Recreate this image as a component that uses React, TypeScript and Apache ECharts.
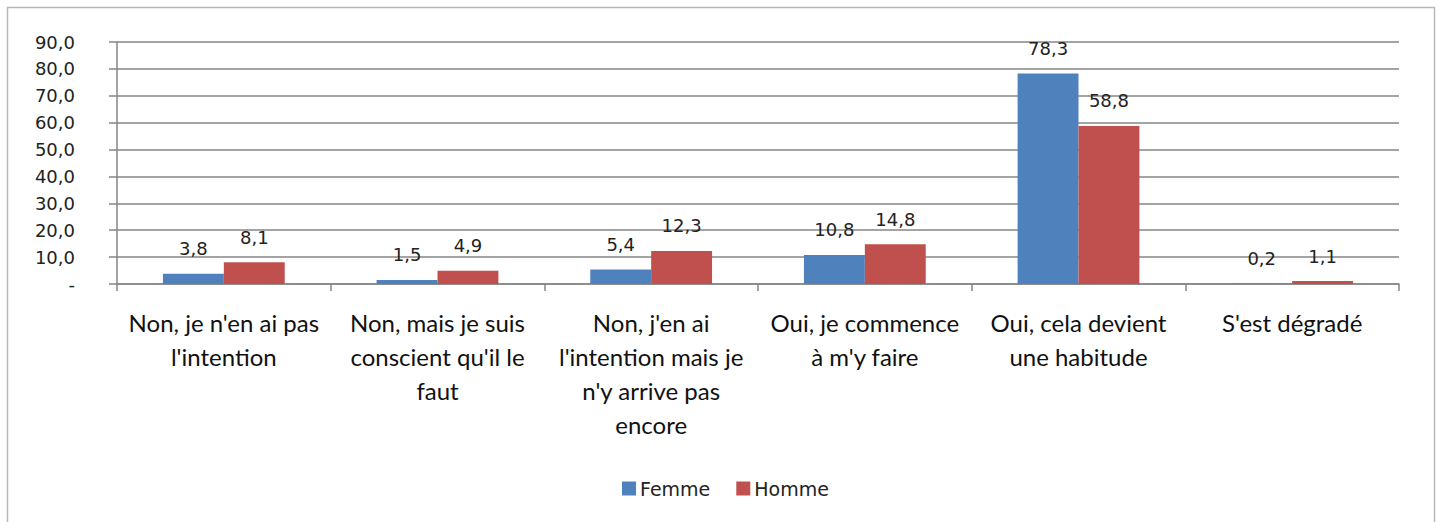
import React, { useEffect, useRef } from "react";
import * as echarts from "echarts";

const categories = [
  "Non, je n'en ai pas\nl'intention",
  "Non, mais je suis\nconscient qu'il le\nfaut",
  "Non, j'en ai\nl'intention mais je\nn'y arrive pas\nencore",
  "Oui, je commence\nà m'y faire",
  "Oui, cela devient\nune habitude",
  "S'est dégradé",
];
const femme = [3.8, 1.5, 5.4, 10.8, 78.3, 0.2];
const homme = [8.1, 4.9, 12.3, 14.8, 58.8, 1.1];
const seriesNames = ["Femme", "Homme"];

const fmt = (v: number) => v.toFixed(1).replace(".", ",");

export default function App() {
  const ref = useRef<HTMLDivElement>(null);
  useEffect(() => {
    document.body.style.margin = "0";
    const chart = echarts.init(ref.current!, undefined, { renderer: "svg" });
    const labelStyle = {
      show: true,
      position: "top" as const,
      distance: 16,
      fontFamily: "DejaVu Sans",
      fontSize: 18,
      color: "#222",
      formatter: (p: any) => fmt(p.value),
    };
    chart.setOption({
      animation: false,
      graphic: [
        {
          type: "rect",
          shape: { x: 7.5, y: 7.5, width: 1427, height: 540 },
          style: { fill: "none", stroke: "#b8b8b8", lineWidth: 1.5 },
          silent: true,
          z: -1,
        },
      ],
      grid: { left: 117, right: 40, top: 42, bottom: 238 },
      legend: {
        data: seriesNames,
        left: 617,
        top: 474,
        itemWidth: 14,
        itemHeight: 14,
        itemGap: 26,
        icon: "rect",
        textStyle: { fontFamily: "DejaVu Sans", fontSize: 19, color: "#222", padding: [0, 0, 0, -1] },
      },
      xAxis: {
        type: "category",
        data: categories,
        axisLine: { lineStyle: { color: "#868686", width: 1.5 } },
        axisTick: { show: true, length: 7, alignWithLabel: false, lineStyle: { color: "#868686", width: 1.5 } },
        axisLabel: {
          interval: 0,
          margin: 21,
          fontFamily: "Lato, Open Sans, sans-serif",
          fontSize: 24,
          lineHeight: 34,
          color: "#111",
          verticalAlign: "top",
        },
      },
      yAxis: {
        type: "value",
        min: 0,
        max: 90,
        interval: 10,
        axisLine: { show: true, lineStyle: { color: "#868686", width: 1.5 } },
        axisTick: { show: true, length: 8, lineStyle: { color: "#868686", width: 1.5 } },
        splitLine: { lineStyle: { color: "#868686", width: 1.5 } },
        axisLabel: {
          margin: 42,
          fontFamily: "DejaVu Sans",
          fontSize: 18,
          color: "#222",
          formatter: (v: number) => (v === 0 ? "-" : fmt(v)),
        },
      },
      series: [
        {
          name: seriesNames[0],
          type: "bar",
          data: femme,
          barGap: "0%",
          barCategoryGap: "43%",
          itemStyle: { color: "#4F81BD" },
          label: labelStyle,
        },
        {
          name: seriesNames[1],
          type: "bar",
          data: homme,
          barGap: "0%",
          barCategoryGap: "43%",
          itemStyle: { color: "#C0504D" },
          label: labelStyle,
        },
      ],
    });
    return () => chart.dispose();
  }, []);
  return <div ref={ref} style={{ width: 1439, height: 522 }} />;
}
